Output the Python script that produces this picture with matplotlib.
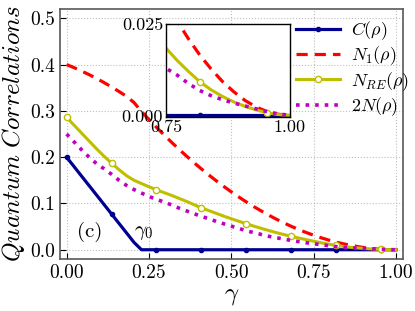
import numpy as np
import matplotlib
matplotlib.use('Agg')
import matplotlib.pyplot as plt

plt.rcParams['font.family'] = 'serif'
plt.rcParams['font.serif'] = ['cmr10', 'DejaVu Serif']
plt.rcParams['mathtext.fontset'] = 'cm'
plt.rcParams['axes.formatter.use_mathtext'] = True
plt.rcParams['axes.unicode_minus'] = False

# gamma grid (step 1/44)
gamma = np.arange(45) / 44.0

C_rho = [0.200, 0.1795, 0.159, 0.1386, 0.1182, 0.0977, 0.0773, 0.0568, 0.0364, 0.0159,
         0.0, 0.0, 0.0, 0.0, 0.0, 0.0, 0.0, 0.0, 0.0, 0.0,
         0.0, 0.0, 0.0, 0.0, 0.0, 0.0, 0.0, 0.0, 0.0, 0.0,
         0.0, 0.0, 0.0, 0.0, 0.0, 0.0, 0.0, 0.0, 0.0, 0.0,
         0.0, 0.0, 0.0, 0.0, 0.0]

N1_rho = [0.400, 0.3933, 0.3860, 0.3783, 0.3700, 0.3611, 0.3517, 0.3418, 0.3314, 0.318,
          0.2986, 0.2813, 0.2645, 0.2482, 0.2324, 0.2172, 0.2025, 0.1883, 0.1746, 0.1614,
          0.1488, 0.1366, 0.1250, 0.1139, 0.1033, 0.0932, 0.0837, 0.0746, 0.0661, 0.0581,
          0.0506, 0.0436, 0.0372, 0.0313, 0.0258, 0.0209, 0.0165, 0.0127, 0.0093, 0.0065,
          0.0041, 0.0023, 0.0010, 0.0003, 0.0]

NRE_rho = [0.286, 0.269, 0.252, 0.235, 0.218, 0.202, 0.187, 0.173, 0.160, 0.150,
           0.143, 0.136, 0.1295, 0.1235, 0.1175, 0.1110, 0.1045, 0.0975, 0.0905, 0.0845,
           0.0785, 0.0725, 0.0670, 0.0615, 0.0560, 0.0510, 0.0462, 0.0415, 0.0370, 0.0328,
           0.0290, 0.0253, 0.0218, 0.0184, 0.0150, 0.0120, 0.0092, 0.0070, 0.0052, 0.0037,
           0.0025, 0.0015, 0.0007, 0.0002, 0.0]

N2_rho = [0.250, 0.233, 0.216, 0.200, 0.186, 0.175, 0.163, 0.150, 0.139, 0.130,
          0.1225, 0.115, 0.109, 0.103, 0.097, 0.090, 0.084, 0.078, 0.072, 0.067,
          0.061, 0.056, 0.051, 0.046, 0.041, 0.037, 0.033, 0.029, 0.026, 0.0230,
          0.0200, 0.0175, 0.0151, 0.0129, 0.0110, 0.0087, 0.0068, 0.0054, 0.0043, 0.0034,
          0.0026, 0.0018, 0.0010, 0.0004, 0.0]

labels = [r'$C(\rho)$', r'$N_1(\rho)$', r'$N_{RE}(\rho)$', r'$2N(\rho)$']


def draw(ax, with_label=True):
    lab = labels if with_label else [None] * 4
    ax.plot(gamma, C_rho, '-', color='#000090', lw=2.3, marker='o', ms=3,
            markevery=6, label=lab[0])
    ax.plot(gamma, N1_rho, '--', color='red', lw=2.3, dashes=(3.5, 2.2),
            label=lab[1])
    ax.plot(gamma, NRE_rho, '-', color='#bfbf00', lw=2.2, marker='o', ms=4.5,
            mfc='white', mec='#bfbf00', mew=1.0, markevery=6, label=lab[2])
    ax.plot(gamma, N2_rho, ':', color='#c000c0', lw=2.6, label=lab[3])


fig = plt.figure(figsize=(4.15, 3.11), dpi=100)
ax = fig.add_axes([0.1446, 0.1672, 0.8257, 0.8038])
draw(ax)
ax.set_xlim(-0.02, 1.02)
ax.set_ylim(-0.02, 0.52)
ax.set_xticks([0.0, 0.25, 0.5, 0.75, 1.0])
ax.set_xticklabels(['0.00', '0.25', '0.50', '0.75', '1.00'])
ax.set_yticks([0.0, 0.1, 0.2, 0.3, 0.4, 0.5])
ax.set_yticklabels(['0.0', '0.1', '0.2', '0.3', '0.4', '0.5'])
ax.tick_params(direction='in', labelsize=14, length=4)
ax.grid(color='0.75', linestyle=':', linewidth=0.8)
for s in ax.spines.values():
    s.set_color('0.35')
    s.set_linewidth(1.2)
ax.set_xlabel(r'$\gamma$', fontsize=18, labelpad=2)
ax.set_ylabel(r'$Quantum\ Correlations$', fontsize=18, labelpad=2)
ax.text(0.07, 0.038, '(c)', fontsize=15, ha='center', va='center')
ax.text(0.235, 0.036, r'$\gamma_0$', fontsize=15, ha='center', va='center')
ax.legend(loc='upper left', bbox_to_anchor=(0.69, 0.96), frameon=False,
          fontsize=13, handlelength=2.4, handletextpad=0.6, labelspacing=0.15,
          borderaxespad=0.0, borderpad=0.0)

ins = fig.add_axes([0.4, 0.6254, 0.2988, 0.2974])
draw(ins, with_label=False)
ins.set_xlim(0.75, 1.0)
ins.set_ylim(-0.0003, 0.025)
ins.set_xticks([0.75, 1.0])
ins.set_xticklabels(['0.75', '1.00'])
ins.set_yticks([0.0, 0.025])
ins.set_yticklabels(['0.000', '0.025'])
ins.tick_params(direction='in', labelsize=13, length=3, pad=2)
for s in ins.spines.values():
    s.set_color('black')
    s.set_linewidth(1.0)

fig.savefig('out.png', dpi=100)
